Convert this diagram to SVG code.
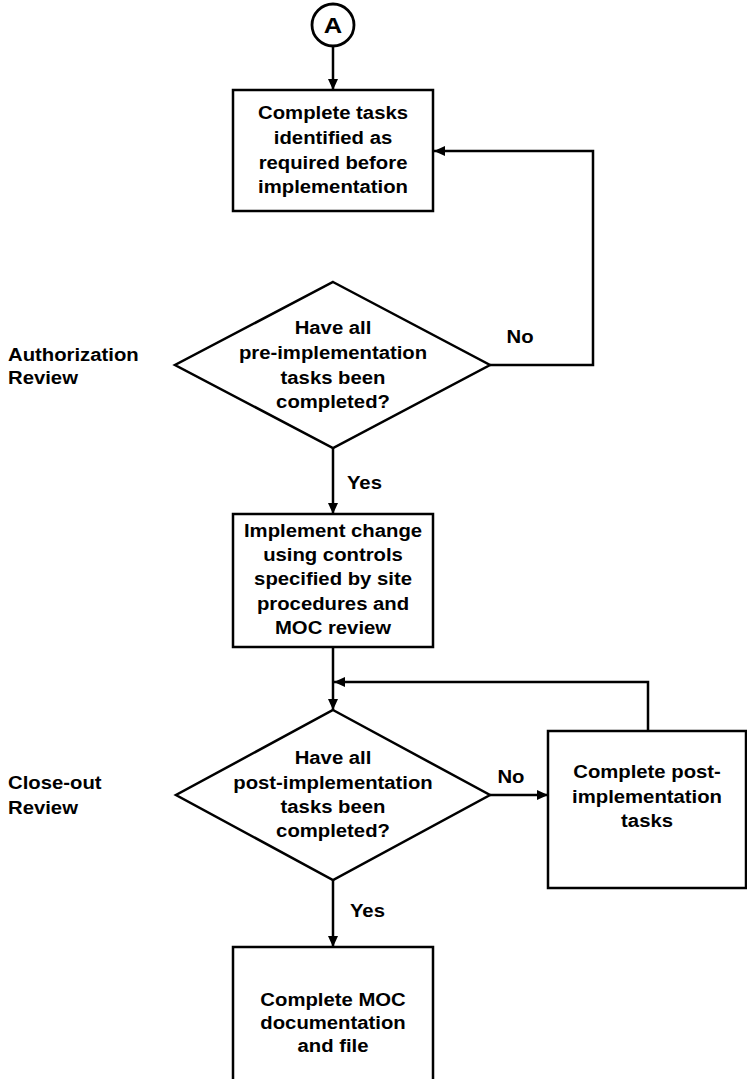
<svg xmlns="http://www.w3.org/2000/svg" width="747" height="1079" viewBox="0 0 747 1079">
<style>
.s{fill:#fff;stroke:#000;stroke-width:2.5}
.c{fill:none;stroke:#000;stroke-width:2.5}
text{font-family:"Liberation Sans",Arial,sans-serif;font-weight:bold;font-size:17.5px;fill:#000}
.m{text-anchor:middle}
</style>
<defs>
<marker id="ah" markerUnits="userSpaceOnUse" markerWidth="12" markerHeight="10" refX="11" refY="5" orient="auto">
<path d="M0,0 L11,5 L0,10 z" fill="#000"/>
</marker>
</defs>
<g id="connectors">
<line class="c" x1="333" y1="46" x2="333" y2="90" marker-end="url(#ah)"/>
<polyline class="c" points="490,365 593,365 593,151 434,151" marker-end="url(#ah)"/>
<line class="c" x1="333" y1="448" x2="333" y2="514" marker-end="url(#ah)"/>
<line class="c" x1="333" y1="647" x2="333" y2="710" marker-end="url(#ah)"/>
<polyline class="c" points="648,731 648,682 334,682" marker-end="url(#ah)"/>
<line class="c" x1="490" y1="795" x2="548" y2="795" marker-end="url(#ah)"/>
<line class="c" x1="333" y1="880" x2="333" y2="947" marker-end="url(#ah)"/>
<g transform="scale(1.16,1)">
<text x="448.3" y="343" class="m">No</text>
<text x="299.1" y="489">Yes</text>
<text x="440.5" y="783" class="m">No</text>
<text x="301.7" y="917">Yes</text>
</g>
</g>
<g id="connectorA">
<circle class="s" cx="333" cy="25" r="21" style="stroke-width:2.8"/>
<text x="287.1" y="33" class="m" transform="scale(1.16,1)" style="font-size:22px">A</text>
</g>
<g id="box1">
<rect class="s" x="233" y="90" width="200" height="121"/>
<g transform="scale(1.16,1)">
<text x="287.1" y="119" class="m">Complete tasks</text>
<text x="287.1" y="144" class="m">identified as</text>
<text x="287.1" y="169" class="m">required before</text>
<text x="287.1" y="193" class="m">implementation</text>
</g>
</g>
<g id="label-authorization">
<g transform="scale(1.16,1)">
<text x="6.9" y="361">Authorization</text>
<text x="6.9" y="384">Review</text>
</g>
</g>
<g id="decision1">
<polygon class="s" points="333,282 490,365 333,448 175,365"/>
<g transform="scale(1.16,1)">
<text x="287.1" y="334" class="m">Have all</text>
<text x="287.1" y="359" class="m">pre-implementation</text>
<text x="287.1" y="384" class="m">tasks been</text>
<text x="287.1" y="408" class="m">completed?</text>
</g>
</g>
<g id="box2">
<rect class="s" x="233" y="514" width="200" height="133"/>
<g transform="scale(1.16,1)">
<text x="287.1" y="537" class="m">Implement change</text>
<text x="287.1" y="561" class="m">using controls</text>
<text x="287.1" y="585" class="m">specified by site</text>
<text x="287.1" y="610" class="m">procedures and</text>
<text x="287.1" y="634" class="m">MOC review</text>
</g>
</g>
<g id="label-closeout">
<g transform="scale(1.16,1)">
<text x="6.9" y="789">Close-out</text>
<text x="6.9" y="814">Review</text>
</g>
</g>
<g id="decision2">
<polygon class="s" points="333,710 490,795 333,880 176,795"/>
<g transform="scale(1.16,1)">
<text x="287.1" y="764" class="m">Have all</text>
<text x="287.1" y="789" class="m">post-implementation</text>
<text x="287.1" y="813" class="m">tasks been</text>
<text x="287.1" y="837" class="m">completed?</text>
</g>
</g>
<g id="box-post">
<rect class="s" x="548" y="731" width="198" height="157"/>
<g transform="scale(1.16,1)">
<text x="557.8" y="778" class="m">Complete post-</text>
<text x="557.8" y="803" class="m">implementation</text>
<text x="557.8" y="827" class="m">tasks</text>
</g>
</g>
<g id="box3">
<rect class="s" x="233" y="947" width="200" height="145"/>
<g transform="scale(1.16,1)">
<text x="287.1" y="1006" class="m">Complete MOC</text>
<text x="287.1" y="1029" class="m">documentation</text>
<text x="287.1" y="1052" class="m">and file</text>
</g>
</g>
</svg>
